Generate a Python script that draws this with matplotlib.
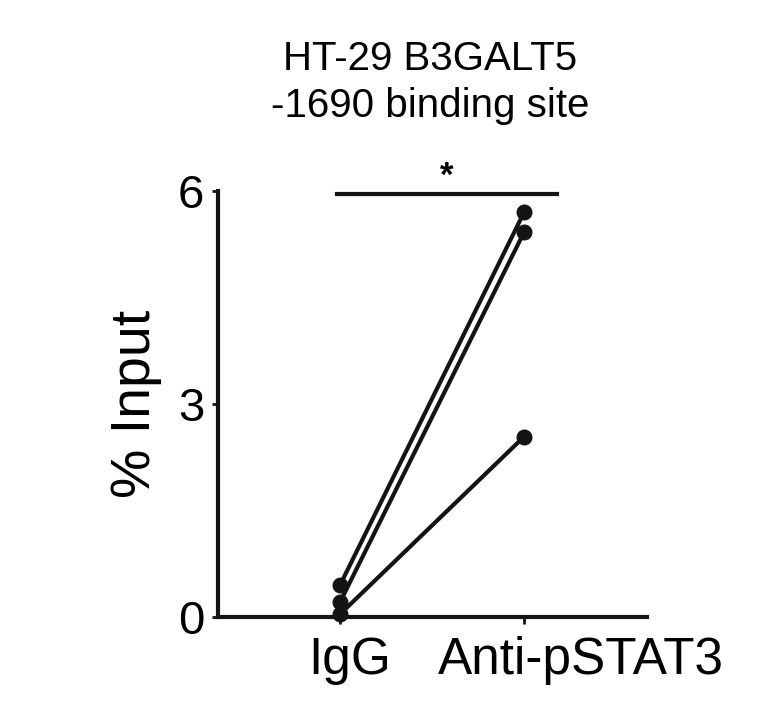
import matplotlib
matplotlib.use("Agg")
from matplotlib import pyplot as plt
import matplotlib.transforms as mtransforms

plt.rcParams['font.family'] = ['Liberation Sans', 'DejaVu Sans']

# data
groups = ["IgG", "Anti-pSTAT3"]
igg = [0.45, 0.21, 0.04]
anti = [5.70, 5.42, 2.54]
yticks = [0, 3, 6]
title = "HT-29 B3GALT5\n-1690 binding site"

fig = plt.figure(figsize=(7.61, 7.13), dpi=100)
ax = fig.add_axes([0.2865, 0.1346, 0.5637, 0.5975])

for a, b in zip(igg, anti):
    ax.plot([0, 1], [a, b], color="#141414", lw=3, marker="o", ms=10.5,
            clip_on=False, zorder=3)

ax.set_xlim(-0.663, 1.668)
ax.set_ylim(0, 6)
ax.set_yticks(yticks)
ax.set_yticklabels([str(t) for t in yticks], fontsize=34)
ax.set_xticks([0, 1])
ax.set_xticklabels([])
ax.tick_params(axis='y', length=4, width=2, pad=6, color="#141414")
ax.tick_params(axis='x', length=5, width=2, color="#141414")

for s in ["top", "right"]:
    ax.spines[s].set_visible(False)
for s in ["left", "bottom"]:
    ax.spines[s].set_linewidth(3)
    ax.spines[s].set_color("#141414")

# category labels, shifted like the original
trans = mtransforms.blended_transform_factory(ax.transData, ax.transAxes)
ax.text(0.05, -0.045, groups[0], transform=trans, ha='center', va='top', fontsize=37)
ax.text(1.31, -0.045, groups[1], transform=trans, ha='center', va='top', fontsize=37)

ax.set_ylabel("% Input", fontsize=40, labelpad=11)

# significance bar
ax.plot([-0.016, 1.18], [5.96, 5.96], color="#141414", lw=3, clip_on=False)
ax.text(0.58, 6.2, "*", ha='center', va='center', fontsize=25, fontweight='bold')

fig.text(0.565, 0.944, title, ha='center', va='top', fontsize=29,
         linespacing=1.3)

fig.savefig("out.png", dpi=100)
